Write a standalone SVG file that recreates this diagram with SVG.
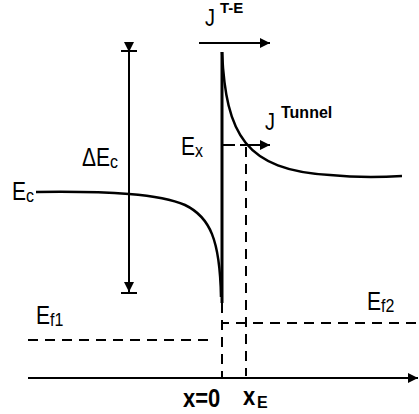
<svg xmlns="http://www.w3.org/2000/svg" width="419" height="414" viewBox="0 0 419 414">
<defs>
<style>
.t{font-family:"Liberation Sans",Arial,sans-serif;fill:#000}
.b{font-weight:bold}
.ln{stroke:#000;fill:none}
.dash{stroke:#000;stroke-width:2;stroke-dasharray:10 7;fill:none}
</style>
<marker id="ah" viewBox="0 0 10 10" refX="10" refY="5" markerWidth="10" markerHeight="10" markerUnits="userSpaceOnUse" orient="auto">
<path d="M0,0 L10,5 L0,10 Z" fill="#000"/>
</marker>
</defs>
<rect width="419" height="414" fill="#fff"/>
<g id="connectors">
<line class="ln" x1="28" y1="378" x2="418" y2="378" stroke-width="2" marker-end="url(#ah)"/>
<line class="ln" x1="129" y1="52" x2="129" y2="292" stroke-width="2" marker-start="url(#ah)" marker-end="url(#ah)"/>
<line class="ln" x1="121" y1="51" x2="137" y2="51" stroke-width="2"/>
<line class="ln" x1="121" y1="293" x2="137" y2="293" stroke-width="2"/>
<line class="ln" x1="199" y1="43" x2="270" y2="43" stroke-width="2" marker-end="url(#ah)"/>
<line class="ln" x1="222" y1="145" x2="235" y2="145" stroke-width="2"/>
<line class="ln" x1="240" y1="145" x2="270" y2="145" stroke-width="2" marker-end="url(#ah)"/>
<line class="dash" x1="246" y1="147" x2="246" y2="376"/>
<line class="dash" x1="222" y1="303" x2="222" y2="377"/>
<line class="dash" x1="223" y1="323" x2="419" y2="323" stroke-dashoffset="4"/>
<line class="dash" x1="28" y1="340" x2="215" y2="340"/>
</g>
<g id="barrier">
<line class="ln" x1="222" y1="52" x2="222" y2="303" stroke-width="3"/>
<path class="ln" stroke-width="2.5" d="M36,192 C110,191 160,194 185,205 C210,217 220,240 221,297"/>
<path class="ln" stroke-width="2.5" d="M222,52 C226,135 245,170 330,175 C360,178 385,177 402,176"/>
</g>
<g id="label-JTE"><text class="t" transform="translate(205,26) scale(1,1.2)" font-size="20">J</text><text class="t b" x="220" y="13" font-size="15">T-E</text></g>
<g id="label-JTunnel"><text class="t" transform="translate(265,130) scale(1,1.2)" font-size="20">J</text><text class="t b" x="281" y="118" font-size="16">Tunnel</text></g>
<g id="label-Ex"><text class="t" transform="translate(181,155) scale(1,1.2)" font-size="21">E</text><text class="t" transform="translate(195,157) scale(1,1.15)" font-size="16">x</text></g>
<g id="label-dEc"><text class="t" transform="translate(82,166) scale(1,1.2)" font-size="21">ΔE</text><text class="t" transform="translate(110,168) scale(1,1.15)" font-size="16">c</text></g>
<g id="label-Ec"><text class="t" transform="translate(12,200) scale(1,1.2)" font-size="21">E</text><text class="t" transform="translate(26,202) scale(1,1.15)" font-size="16">c</text></g>
<g id="label-Ef1"><text class="t" transform="translate(36,324) scale(1,1.2)" font-size="21">E</text><text class="t" transform="translate(50,326) scale(1,1.15)" font-size="16">f1</text></g>
<g id="label-Ef2"><text class="t" transform="translate(367,310) scale(1,1.2)" font-size="21">E</text><text class="t" transform="translate(381,312) scale(1,1.15)" font-size="16">f2</text></g>
<g id="label-x0"><text class="t b" transform="translate(183,407) scale(1,1.15)" font-size="22">x=0</text></g>
<g id="label-xE"><text class="t b" transform="translate(243,405) scale(1,1.15)" font-size="22">x</text><text class="t b" x="257" y="408" font-size="16">E</text></g>
</svg>
